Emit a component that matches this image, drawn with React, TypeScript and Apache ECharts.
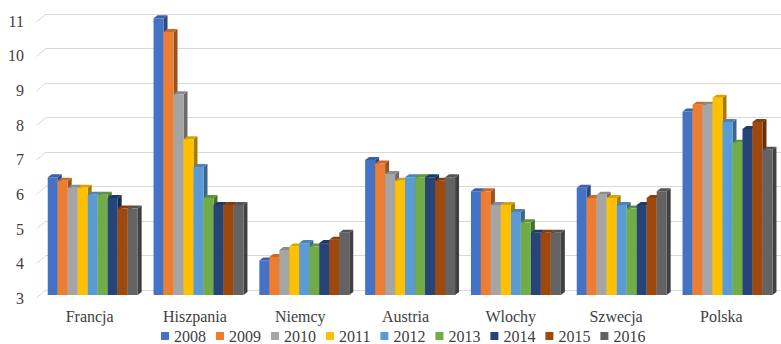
import React, { useEffect, useRef } from "react";
import * as echarts from "echarts";

const countries = ["Francja", "Hiszpania", "Niemcy", "Austria", "Wlochy", "Szwecja", "Polska"];
const years = ["2008", "2009", "2010", "2011", "2012", "2013", "2014", "2015", "2016"];
const yTicks = [3, 4, 5, 6, 7, 8, 9, 10, 11];

const v2008 = [6.4, 11.0, 4.0, 6.9, 6.0, 6.1, 8.3];
const v2009 = [6.3, 10.6, 4.1, 6.8, 6.0, 5.8, 8.5];
const v2010 = [6.1, 8.8, 4.3, 6.5, 5.6, 5.9, 8.5];
const v2011 = [6.1, 7.5, 4.4, 6.3, 5.6, 5.8, 8.7];
const v2012 = [5.9, 6.7, 4.5, 6.4, 5.4, 5.6, 8.0];
const v2013 = [5.9, 5.8, 4.4, 6.4, 5.1, 5.5, 7.4];
const v2014 = [5.8, 5.6, 4.5, 6.4, 4.8, 5.6, 7.8];
const v2015 = [5.5, 5.6, 4.6, 6.3, 4.8, 5.8, 8.0];
const v2016 = [5.5, 5.6, 4.8, 6.4, 4.8, 6.0, 7.2];

const seriesValues = [v2008, v2009, v2010, v2011, v2012, v2013, v2014, v2015, v2016];
const palette = ["#4472C4", "#ED7D31", "#A5A5A5", "#FFC000", "#5B9BD5", "#70AD47", "#264478", "#9E480E", "#636363"];

const FONT = "serif";
const TEXT = "#404040";
const GRID_LINE = "#d9d9d9";
const DEPTH_X = 4;
const DEPTH_Y = 3;
const GROUP_FILL = 0.85;

// mix a hex colour towards black (f < 0) or white (f > 0)
function shade(hex: string, f: number): string {
  const n = parseInt(hex.slice(1), 16);
  const target = f < 0 ? 0 : 255;
  const p = Math.abs(f);
  const mix = (c: number) => Math.round(c + (target - c) * p);
  return `rgb(${mix(n >> 16)},${mix((n >> 8) & 255)},${mix(n & 255)})`;
}

export default function App() {
  const ref = useRef<HTMLDivElement>(null);

  useEffect(() => {
    if (!ref.current) return;
    const chart = echarts.init(ref.current, undefined, { renderer: "svg" });
    const nSeries = years.length;

    const barSeries = years.map((year, si) => ({
      type: "custom",
      name: year,
      xAxisIndex: 0,
      yAxisIndex: 0,
      color: palette[si],
      itemStyle: { color: palette[si] },
      encode: { x: 0, y: 1 },
      data: seriesValues[si].map((v, ci) => [ci, v]),
      renderItem: (params: any, api: any) => {
        const ci = api.value(0);
        const v = api.value(1);
        const top = api.coord([ci, v]);
        const base = api.coord([ci, 3]);
        const catW = api.size([1, 0])[0];
        const bw = (catW * GROUP_FILL) / nSeries;
        const x0 = top[0] - (nSeries / 2) * bw + params.seriesIndex * bw;
        const x1 = x0 + bw;
        const yt = top[1];
        const yb = base[1];
        const c = palette[params.seriesIndex];
        return {
          type: "group",
          children: [
            {
              type: "polygon",
              shape: {
                points: [
                  [x1, yt],
                  [x1 + DEPTH_X, yt - DEPTH_Y],
                  [x1 + DEPTH_X, yb - DEPTH_Y],
                  [x1, yb],
                ],
              },
              style: { fill: shade(c, -0.35) },
            },
            {
              type: "polygon",
              shape: {
                points: [
                  [x0, yt],
                  [x0 + DEPTH_X, yt - DEPTH_Y],
                  [x1 + DEPTH_X, yt - DEPTH_Y],
                  [x1, yt],
                ],
              },
              style: { fill: shade(c, -0.15) },
            },
            {
              type: "rect",
              shape: { x: x0, y: yt, width: bw, height: yb - yt },
              style: { fill: c },
            },
          ],
        };
      },
    }));

    // short slanted floor-to-wall segments at the start of each gridline
    const wallSeries = {
      type: "custom",
      name: "wall",
      xAxisIndex: 2,
      yAxisIndex: 2,
      z: 1,
      silent: true,
      data: yTicks.map((t) => [0, t]),
      renderItem: (_p: any, api: any) => {
        const p = api.coord([0, api.value(1)]);
        return {
          type: "line",
          shape: { x1: p[0] - 9.5, y1: p[1] + 8, x2: p[0], y2: p[1] },
          style: { stroke: GRID_LINE, lineWidth: 1 },
        };
      },
    };

    chart.setOption({
      animation: false,
      textStyle: { fontFamily: FONT },
      grid: [
        { left: 39.8, right: 0.6, top: 18.2, bottom: 49 },
        { left: 37, right: 7, top: 21.3, bottom: 45.7 },
        { left: 46, right: 0, top: 14, bottom: 54 },
      ],
      xAxis: [
        { gridIndex: 0, type: "category", data: countries, show: false },
        {
          gridIndex: 1,
          type: "category",
          data: countries,
          axisLine: { show: false },
          axisTick: { show: false },
          axisLabel: { color: TEXT, fontFamily: FONT, fontSize: 16, margin: 10 },
        },
        { gridIndex: 2, type: "value", min: 0, max: 1, show: false },
      ],
      yAxis: [
        { gridIndex: 0, type: "value", min: 3, max: 11, interval: 1, show: false },
        {
          gridIndex: 1,
          type: "value",
          min: 3,
          max: 11,
          interval: 1,
          axisLine: { show: false },
          axisTick: { show: false },
          splitLine: { show: false },
          axisLabel: { color: TEXT, fontFamily: FONT, fontSize: 16, margin: 13 },
        },
        {
          gridIndex: 2,
          type: "value",
          min: 3,
          max: 11,
          interval: 1,
          axisLine: { show: false },
          axisTick: { show: false },
          axisLabel: { show: false },
          splitLine: { show: true, lineStyle: { color: GRID_LINE, width: 1 } },
        },
      ],
      legend: {
        data: years,
        left: 161,
        top: 328,
        padding: 0,
        icon: "rect",
        itemWidth: 8,
        itemHeight: 8,
        itemGap: 10,
        textStyle: { color: TEXT, fontFamily: FONT, fontSize: 16 },
      },
      series: [...barSeries, wallSeries],
    });

    return () => chart.dispose();
  }, []);

  return (
    <div
      ref={ref}
      style={{ position: "fixed", left: 0, top: 0, width: 781, height: 344, background: "#fff" }}
    />
  );
}
